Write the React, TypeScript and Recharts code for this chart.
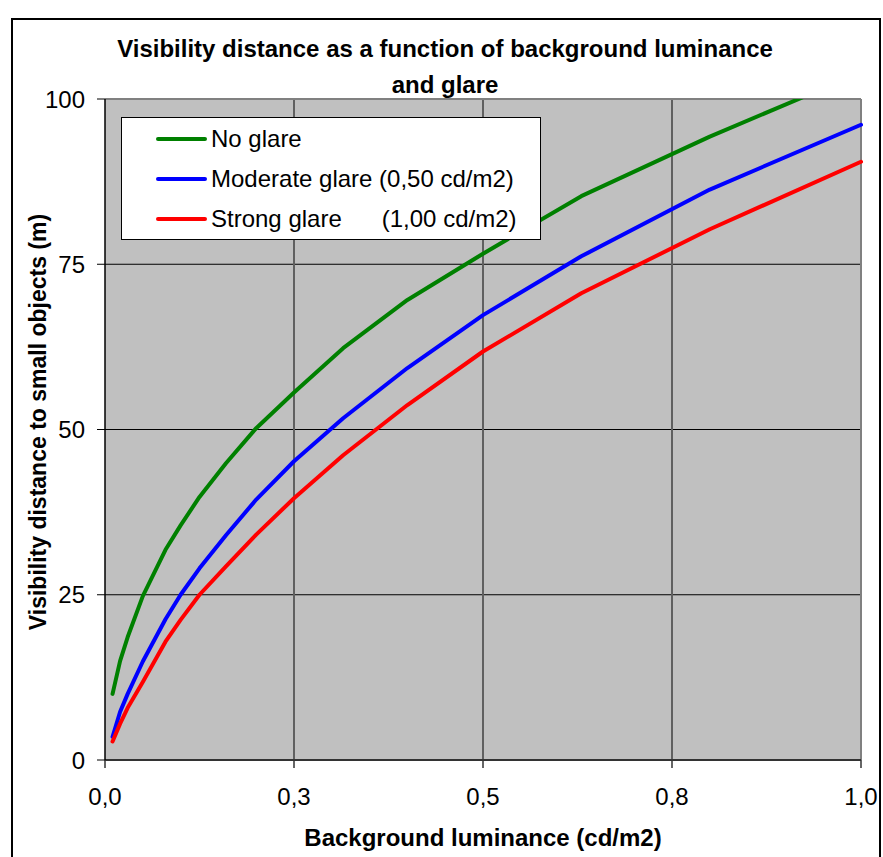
// Visibility distance vs background luminance — three glare levels, Excel-style grey plot
import { CartesianGrid, Line, LineChart, ReferenceLine, XAxis, YAxis } from 'recharts';

const luminance = [0.01, 0.02, 0.03, 0.05, 0.08, 0.1, 0.125, 0.16, 0.2, 0.25, 0.315, 0.4, 0.5, 0.63, 0.8, 1.0];
const noGlare = [10, 15, 18.6, 24.8, 31.8, 35.5, 39.8, 44.9, 50.2, 55.6, 62.3, 69.6, 76.6, 85.3, 94.3, 104];
const moderateGlare = [3.5, 7.3, 10, 14.9, 21.3, 25, 29, 34, 39.4, 45.2, 51.7, 59.3, 67.3, 76.2, 86.3, 96.1];
const strongGlare = [2.8, 5.5, 7.9, 11.8, 17.9, 21.2, 25, 29.3, 34.1, 39.6, 46.1, 53.7, 61.8, 70.6, 80.3, 90.5];

const xTicks = [0, 0.25, 0.5, 0.75, 1];
const xTickLabels = ['0,0', '0,3', '0,5', '0,8', '1,0'];
const yTicks = [0, 25, 50, 75, 100];

const seriesNames = ['No glare', 'Moderate glare (0,50 cd/m2)', 'Strong glare      (1,00 cd/m2)'];
const seriesColors = ['#008000', '#0000FF', '#FF0000'];

const rows = luminance.map((x, i) => ({
  x,
  none: noGlare[i],
  moderate: moderateGlare[i],
  strong: strongGlare[i],
}));

const FONT = '"Liberation Sans", Arial, sans-serif';

function LegendBox() {
  return (
    <div
      style={{
        position: 'absolute',
        left: 121,
        top: 117,
        width: 420,
        height: 123,
        background: '#fff',
        border: '1px solid #000',
        boxSizing: 'border-box',
      }}
    >
      {seriesNames.map((name, i) => (
        <div
          key={name}
          style={{
            position: 'absolute',
            left: 0,
            top: 1 + i * 40,
            height: 40,
            display: 'flex',
            alignItems: 'center',
          }}
        >
          <svg width={89} height={10} style={{ display: 'block' }}>
            <line x1={36} y1={5} x2={83} y2={5} stroke={seriesColors[i]} strokeWidth={4} strokeLinecap="round" />
          </svg>
          <span style={{ fontSize: 24, whiteSpace: 'pre', color: '#000' }}>{name}</span>
        </div>
      ))}
    </div>
  );
}

export default function App() {
  return (
    <div
      style={{
        position: 'absolute',
        left: 0,
        top: 0,
        width: 883,
        height: 857,
        overflow: 'hidden',
        background: '#fff',
        fontFamily: FONT,
      }}
    >
      {/* outer chart frame, bottom edge falls outside the picture */}
      <div
        style={{
          position: 'absolute',
          left: 11,
          top: 18,
          width: 870,
          height: 870,
          border: '2px solid #000',
          boxSizing: 'border-box',
        }}
      />
      <LineChart
        width={883}
        height={857}
        data={rows}
        margin={{ top: 99, right: 22, bottom: 0, left: 0 }}
        style={{ position: 'absolute', left: 0, top: 0 }}
      >
        <CartesianGrid
          vertical={false}
          horizontalValues={[25, 50, 75]}
          stroke="#000"
          strokeWidth={1}
          fill="#C0C0C0"
          fillOpacity={1}
        />
        <CartesianGrid horizontal={false} verticalValues={[0.25, 0.5, 0.75]} stroke="#606060" strokeWidth={2} />
        <ReferenceLine y={100} stroke="#808080" strokeWidth={2} />
        <ReferenceLine x={1} stroke="#808080" strokeWidth={2} />
        <XAxis
          dataKey="x"
          type="number"
          domain={[0, 1]}
          ticks={xTicks}
          tickFormatter={(v: number) => xTickLabels[xTicks.indexOf(v)] ?? String(v)}
          height={97}
          tickSize={8}
          tickMargin={20}
          axisLine={{ stroke: '#333', strokeWidth: 2 }}
          tickLine={{ stroke: '#333', strokeWidth: 1.5 }}
          tick={{ fontSize: 24, fill: '#000', fontFamily: FONT }}
          interval={0}
        />
        <YAxis
          type="number"
          domain={[0, 100]}
          ticks={yTicks}
          allowDataOverflow
          width={105}
          tickSize={8}
          tickMargin={12}
          axisLine={{ stroke: '#000', strokeWidth: 1.5 }}
          tickLine={{ stroke: '#000', strokeWidth: 1 }}
          tick={{ fontSize: 24, fill: '#000', fontFamily: FONT }}
          interval={0}
        />
        <Line
          type="linear"
          dataKey="none"
          stroke={seriesColors[0]}
          strokeWidth={4}
          strokeLinecap="round"
          strokeLinejoin="round"
          dot={false}
          isAnimationActive={false}
        />
        <Line
          type="linear"
          dataKey="moderate"
          stroke={seriesColors[1]}
          strokeWidth={4}
          strokeLinecap="round"
          strokeLinejoin="round"
          dot={false}
          isAnimationActive={false}
        />
        <Line
          type="linear"
          dataKey="strong"
          stroke={seriesColors[2]}
          strokeWidth={4}
          strokeLinecap="round"
          strokeLinejoin="round"
          dot={false}
          isAnimationActive={false}
        />
      </LineChart>
      <LegendBox />
      <div
        style={{
          position: 'absolute',
          left: 0,
          width: 890,
          top: 31,
          textAlign: 'center',
          fontSize: 24,
          fontWeight: 'bold',
          lineHeight: '36px',
        }}
      >
        Visibility distance as a function of background luminance
        <br />
        and glare
      </div>
      <div
        style={{
          position: 'absolute',
          left: 38,
          top: 422,
          transform: 'translate(-50%, -50%) rotate(-90deg)',
          whiteSpace: 'nowrap',
          fontSize: 23,
          fontWeight: 'bold',
        }}
      >
        Visibility distance to small objects (m)
      </div>
      <div
        style={{
          position: 'absolute',
          left: 483,
          top: 838,
          transform: 'translate(-50%, -50%)',
          whiteSpace: 'nowrap',
          fontSize: 24,
          fontWeight: 'bold',
        }}
      >
        Background luminance (cd/m2)
      </div>
    </div>
  );
}
